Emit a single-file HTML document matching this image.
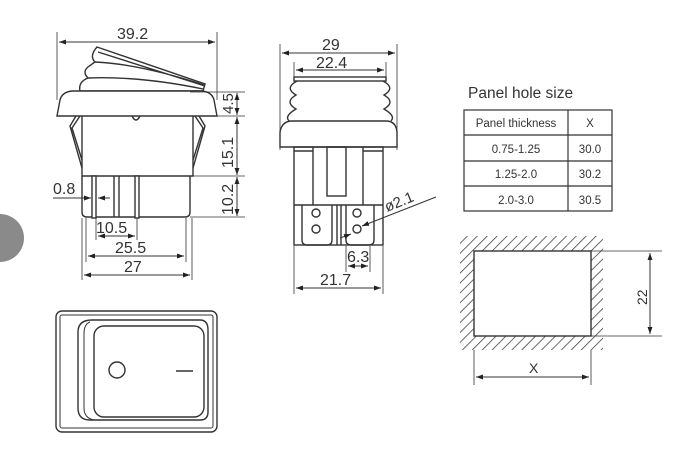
<!DOCTYPE html>
<html><head><meta charset="utf-8"><style>
html,body{margin:0;padding:0;background:#fff;width:680px;height:463px;overflow:hidden}
svg{display:block}
text{font-family:"Liberation Sans",Arial,sans-serif;fill:#333}
</style></head><body>
<svg width="680" height="463" viewBox="0 0 680 463" xmlns="http://www.w3.org/2000/svg">
<defs>
<marker id="a" viewBox="0 0 10 10" refX="10" refY="5" markerWidth="7" markerHeight="7" orient="auto-start-reverse"><path d="M0,1.5 L10,5 L0,8.5 z" fill="#222"/></marker>
<pattern id="h" width="7" height="7" patternUnits="userSpaceOnUse" patternTransform="rotate(45)"><line x1="0" y1="0" x2="0" y2="7" stroke="#444" stroke-width="1.6"/></pattern>
</defs>
<circle cx="0" cy="238" r="24" fill="#8a8a8a"/>
<g stroke="#333" stroke-width="1.4" fill="none">
<!-- LEFT VIEW -->
<line x1="57" y1="32" x2="57" y2="100" stroke-width="0.8"/>
<line x1="217" y1="32" x2="217" y2="100" stroke-width="0.8"/>
<line x1="59" y1="42" x2="215" y2="42" marker-start="url(#a)" marker-end="url(#a)" stroke-width="1"/>
<path d="M97,47 L205,84 L203,91 L80,91 Q78,82 88,78 Q82,72 88,67 Q92,64 95,62 Q89,56 97,47 Z" fill="#fff"/>
<path d="M88,78 Q140,76 203,89 M95,62 Q140,64 204,85 M98,52 L205,86"/>
<path d="M57,116 L60,100 Q62,92 72,91 L202,91 Q212,92 214,100 L217,116 Z" fill="#fff"/>
<path d="M82,116 L82,176 L193,176 L193,116"/>
<path d="M132,116 Q136,124 140,116"/>
<path d="M80,116 L72,128 L82,160 M76,116 L70,126 L82,168"/>
<path d="M195,116 L203,128 L193,160 M199,116 L205,126 L193,168"/>
<path d="M82,176 L82,212 Q82,217 87,217 L185,217 Q190,217 190,212 L190,176"/>
<rect x="92" y="176" width="4" height="42" fill="#fff"/>
<line x1="114" y1="176" x2="114" y2="217"/><line x1="119" y1="176" x2="119" y2="217"/>
<rect x="135" y="176" width="4" height="42" fill="#fff"/>
<g stroke-width="0.8">
<line x1="190" y1="92" x2="245" y2="92"/><line x1="193" y1="116" x2="245" y2="116"/>
<line x1="190" y1="176" x2="245" y2="176"/><line x1="190" y1="217" x2="245" y2="217"/>
<line x1="82" y1="218" x2="82" y2="280"/><line x1="192" y1="218" x2="192" y2="280"/>
<line x1="86" y1="218" x2="86" y2="262"/><line x1="186" y1="218" x2="186" y2="262"/>
<line x1="96" y1="218" x2="96" y2="240"/><line x1="137" y1="218" x2="137" y2="240"/>
</g>
<g stroke-width="1">
<line x1="237" y1="93" x2="237" y2="115" marker-start="url(#a)" marker-end="url(#a)"/>
<line x1="237" y1="117" x2="237" y2="175" marker-start="url(#a)" marker-end="url(#a)"/>
<line x1="237" y1="177" x2="237" y2="216" marker-start="url(#a)" marker-end="url(#a)"/>
<line x1="98" y1="236" x2="135" y2="236" marker-start="url(#a)" marker-end="url(#a)"/>
<line x1="88" y1="256" x2="184" y2="256" marker-start="url(#a)" marker-end="url(#a)"/>
<line x1="84" y1="275" x2="190" y2="275" marker-start="url(#a)" marker-end="url(#a)"/>
<line x1="53" y1="198" x2="91" y2="198" marker-end="url(#a)"/>
<line x1="110" y1="198" x2="98" y2="198" marker-end="url(#a)"/>
</g>
<!-- MIDDLE VIEW -->
<g stroke-width="0.8">
<line x1="280" y1="44" x2="280" y2="150"/><line x1="397" y1="44" x2="397" y2="150"/>
<line x1="294" y1="62" x2="294" y2="78"/><line x1="386" y1="62" x2="386" y2="78"/>
<line x1="294" y1="246" x2="294" y2="294"/><line x1="383" y1="246" x2="383" y2="294"/>
<line x1="346" y1="246" x2="346" y2="272"/><line x1="370" y1="246" x2="370" y2="272"/>
</g>
<g stroke-width="1">
<line x1="282" y1="53" x2="395" y2="53" marker-start="url(#a)" marker-end="url(#a)"/>
<line x1="296" y1="70" x2="384" y2="70" marker-start="url(#a)" marker-end="url(#a)"/>
<line x1="348" y1="266" x2="368" y2="266" marker-start="url(#a)" marker-end="url(#a)"/>
<line x1="296" y1="288" x2="381" y2="288" marker-start="url(#a)" marker-end="url(#a)"/>
</g>
<rect x="294" y="77" width="92" height="4" fill="#fff"/>
<path d="M297,81 Q284,88 296,95 Q284,102 296,109 Q284,116 289,121 M383,81 Q396,88 384,95 Q396,102 384,109 Q396,116 391,121"/>
<path d="M280,147 L280,132 Q282,121 292,121 L386,121 Q396,121 397,132 L397,147 Z" fill="#fff"/>
<rect x="294" y="147" width="89" height="98"/>
<line x1="294" y1="151" x2="313" y2="151"/><line x1="313" y1="147" x2="313" y2="205"/>
<line x1="363" y1="151" x2="383" y2="151"/><line x1="363" y1="147" x2="363" y2="205"/>
<rect x="327" y="147" width="19" height="49"/>
<line x1="294" y1="205" x2="383" y2="205"/>
<path d="M302,205 L302,240 Q302,245 307,245 L327,245 Q332,245 332,240 L332,205"/>
<line x1="337" y1="205" x2="337" y2="245"/><line x1="341" y1="205" x2="341" y2="245"/>
<path d="M346,205 L346,240 Q346,245 351,245 L369,245 Q374,245 374,240 L374,205"/>
<circle cx="316" cy="213" r="4"/><circle cx="316" cy="229" r="4"/>
<circle cx="357" cy="213" r="4"/><circle cx="357" cy="229" r="4"/>
<line x1="340" y1="238" x2="351" y2="234" stroke-width="1" marker-end="url(#a)"/>
<line x1="436" y1="197" x2="362" y2="226" stroke-width="1" marker-end="url(#a)"/>
<!-- BOTTOM LEFT -->
<rect x="56" y="311" width="161" height="121" rx="6"/>
<rect x="60" y="315" width="153" height="113" rx="2" stroke-width="1"/>
<path d="M92,320 L200,320 Q208,320 208,330 L208,412 Q208,420 200,420 L90,420 Q78,420 78,408 L78,332 Q78,320 92,320 Z"/>
<path d="M90,322 Q84,324 84,334 L84,408 Q84,418 94,420" stroke-width="1"/>
<rect x="94" y="326" width="110" height="91" rx="10"/>
<circle cx="117" cy="370" r="8"/>
<line x1="176" y1="371" x2="193" y2="371"/>
<!-- TABLE -->
<rect x="464" y="110" width="148" height="101" stroke-width="1.2"/>
<line x1="568" y1="110" x2="568" y2="211" stroke-width="1.2"/>
<line x1="464" y1="135" x2="612" y2="135" stroke-width="1.2"/>
<line x1="464" y1="161" x2="612" y2="161" stroke-width="1.2"/>
<line x1="464" y1="186" x2="612" y2="186" stroke-width="1.2"/>
<!-- HOLE -->
<path d="M460,236 H603 V350 H460 Z M474,251 V336 H591 V251 Z" fill="url(#h)" fill-rule="evenodd" stroke="none"/>
<rect x="474" y="251" width="117" height="85" fill="#fff" stroke-width="1.4"/>
<g stroke-width="0.8">
<line x1="591" y1="251" x2="662" y2="251"/><line x1="591" y1="336" x2="662" y2="336"/>
<line x1="474" y1="350" x2="474" y2="385"/><line x1="591" y1="350" x2="591" y2="385"/>
</g>
<line x1="650" y1="253" x2="650" y2="334" stroke-width="1" marker-start="url(#a)" marker-end="url(#a)"/>
<line x1="476" y1="377" x2="589" y2="377" stroke-width="1" marker-start="url(#a)" marker-end="url(#a)"/>
</g>
<g font-size="16">
<text x="117" y="39">39.2</text>
<text x="322" y="50">29</text>
<text x="316" y="68">22.4</text>
<text x="53" y="194">0.8</text>
<text x="96" y="233">10.5</text>
<text x="115" y="253">25.5</text>
<text x="124" y="272">27</text>
<text x="347" y="262">6.3</text>
<text x="320" y="285">21.7</text>
<text transform="translate(233,114) rotate(-90)" font-size="15">4.5</text>
<text transform="translate(233,168) rotate(-90)">15.1</text>
<text transform="translate(233,215) rotate(-90)">10.2</text>
<text transform="translate(387,212) rotate(-22)" font-size="15">ø2.1</text>
<text transform="translate(647,305) rotate(-90)" font-size="14">22</text>
<text x="529" y="373" font-size="14">X</text>
<text x="468" y="98" font-size="15.5">Panel hole size</text>
</g>
<g font-size="11.5" text-anchor="middle">
<text x="516" y="127">Panel thickness</text>
<text x="590" y="127">X</text>
<text x="516" y="153">0.75-1.25</text>
<text x="590" y="153">30.0</text>
<text x="516" y="178">1.25-2.0</text>
<text x="590" y="178">30.2</text>
<text x="516" y="204">2.0-3.0</text>
<text x="590" y="204">30.5</text>
</g>
</svg>
</body></html>
